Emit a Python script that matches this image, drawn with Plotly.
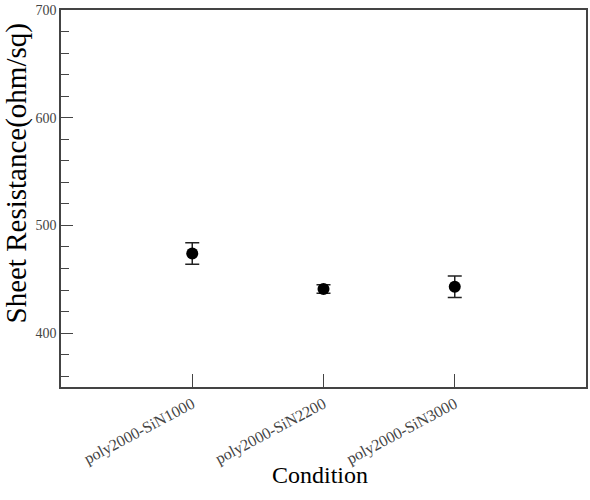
import plotly.graph_objects as go

conditions = ["poly2000-SiN1000", "poly2000-SiN2200", "poly2000-SiN3000"]
resistance = [474, 441, 443]
errors = [10, 4, 10]
positions = [1, 2, 3]

fig = go.Figure()
fig.add_trace(go.Scatter(
    x=positions, y=resistance, mode="markers",
    marker=dict(color="black", size=12, symbol="circle"),
    error_y=dict(type="data", array=errors, visible=True, color="#222", thickness=1.5, width=7),
    showlegend=False,
))

font = "Liberation Serif"
fig.update_layout(
    width=590, height=500,
    margin=dict(l=61, r=4, t=10, b=113, autoexpand=False),
    paper_bgcolor="white", plot_bgcolor="white",
    font=dict(family=font, color="#444"),
    xaxis=dict(
        range=[0, 4], tickvals=positions, ticktext=conditions,
        tickangle=-28, ticks="inside", ticklen=13, tickcolor="#444",
        tickfont=dict(family=font, size=16, color="#444"),
        showline=True, linecolor="#444", linewidth=1.5, mirror=True,
        showgrid=False, zeroline=False,
    ),
    yaxis=dict(
        range=[350, 700], tickvals=[400, 500, 600, 700], ticks="inside", ticklen=12,
        tickcolor="#444", tickfont=dict(family=font, size=14, color="#444"),
        minor=dict(ticks="inside", ticklen=8, dtick=20, tick0=0, tickcolor="#444", showgrid=False),
        showline=True, linecolor="#444", linewidth=1.5, mirror=True,
        showgrid=False, zeroline=False,
    ),
    annotations=[
        dict(text="Sheet Resistance(ohm/sq)", xref="paper", yref="paper",
             x=(16 - 61) / 525, y=(387 - 173.5) / 377, xanchor="center", yanchor="middle",
             textangle=-90, showarrow=False, font=dict(family=font, size=29, color="black")),
        dict(text="Condition", xref="paper", yref="paper",
             x=(320 - 61) / 525, y=(387 - 475) / 377, xanchor="center", yanchor="middle",
             showarrow=False, font=dict(family=font, size=24, color="black")),
    ],
)
fig.write_html("out.html")
